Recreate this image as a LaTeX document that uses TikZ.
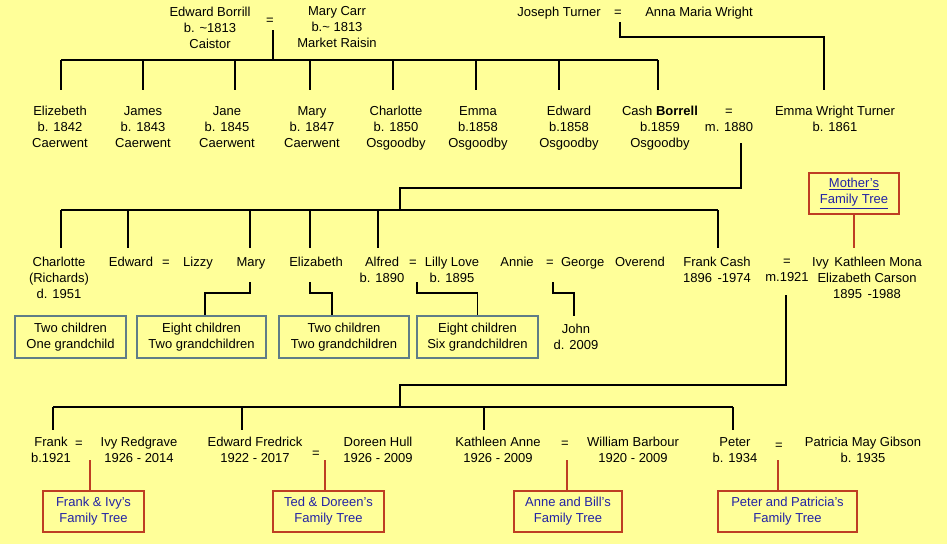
\documentclass[tikz,border=0pt]{standalone}
\usepackage{fontspec}
\setmainfont{Liberation Sans}
\definecolor{paper}{RGB}{255,255,153}
\definecolor{treered}{RGB}{190,62,35}
\definecolor{kidsgrey}{RGB}{95,125,135}
\definecolor{treeblue}{RGB}{35,35,165}
\tikzset{
  person/.style={align=center,inner sep=0pt,anchor=north,yshift=10pt,execute at begin node={\rule{0pt}{10pt}},font=\fontsize{13}{16}\selectfont},
  kidsbox/.style={draw=kidsgrey,line width=1.2pt,align=center,inner sep=0pt,font=\fontsize{13}{16}\selectfont},
  treebox/.style={draw=treered,line width=1.2pt,align=center,inner sep=0pt,text=treeblue,font=\fontsize{13}{16}\selectfont},
  link/.style={line width=1.1pt},
  redlink/.style={line width=1.1pt,treered}
}
\begin{document}
\begin{tikzpicture}[x=1pt,y=-1pt]
  \useasboundingbox (0,0) rectangle (947,544);
  \fill[paper] (0,0) rectangle (947,544);
  \node[person] (edB) at (210,16.5) {Edward  Borrill\\b. \textasciitilde1813\\Caistor};
  \node[person] (eqA) at (270,24.5) {=};
  \node[person] (maryC) at (337,16.5) {Mary Carr\\b.\textasciitilde{} 1813\\Market Raisin};
  \node[person] (josT) at (559,16) {Joseph Turner};
  \node[person] (eqB) at (618,16) {=};
  \node[person] (annaW) at (699,16) {Anna Maria Wright};
  \node[person] (c1) at (60,116) {Elizebeth\\b. 1842\\Caerwent};
  \node[person] (c2) at (143,116) {James\\b. 1843\\Caerwent};
  \node[person] (c3) at (227,116) {Jane\\b. 1845\\Caerwent};
  \node[person] (c4) at (312,116) {Mary\\b. 1847\\Caerwent};
  \node[person] (c5) at (396,116) {Charlotte\\b. 1850\\Osgoodby};
  \node[person] (c6) at (478,116) {Emma\\b.1858\\Osgoodby};
  \node[person] (c7) at (569,116) {Edward\\b.1858\\Osgoodby};
  \node[person] (c8) at (660,116) {Cash \textbf{Borrell}\\b.1859\\Osgoodby};
  \node[person] (wedA) at (729,118.5) {=\\m. 1880};
  \node[person] (emmaT) at (835,116) {Emma Wright Turner\\b. 1861};
  \coordinate (mA) at (273,30);
  \coordinate (barA) at (273,60);
  \draw[link] (mA) -- (barA);
  \draw[link] ([xshift=1pt]c1.north |- barA) -- ([xshift=-2pt]c8.north |- barA);
  \foreach \n/\dx in {c1/1,c2/0,c3/8,c4/-2,c5/-3,c6/-2,c7/-10,c8/-2}
    \draw[link] ([xshift=\dx pt]\n.north |- barA) -- ([xshift=\dx pt,yshift=16pt]\n.north);
  \coordinate (jtA) at (620,22);
  \coordinate (jtB) at (824,37);
  \draw[link] (jtA) |- (jtB) -- ([xshift=-11pt,yshift=16pt]emmaT.north);
  \node[person] (g1) at (59,266.5) {Charlotte\\(Richards)\\d. 1951};
  \node[person] (g2) at (131,266.5) {Edward};
  \node[person] (eqC) at (166,266.5) {=};
  \node[person] (g3) at (198,266.5) {Lizzy};
  \node[person] (g4) at (251,266.5) {Mary};
  \node[person] (g5) at (316,266.5) {Elizabeth};
  \node[person] (g6) at (382,266.5) {Alfred\\b. 1890};
  \node[person] (eqD) at (413,266.5) {=};
  \node[person] (g7) at (452,266.5) {Lilly Love\\b. 1895};
  \node[person] (g8) at (517,266.5) {Annie};
  \node[person] (eqE) at (550,266.5) {=};
  \node[person] (g9) at (613,266.5) {George\hspace{7pt} Overend};
  \node[person] (g10) at (717,266.5) {Frank Cash\\1896\hspace{2pt} -1974};
  \node[person] (wedB) at (787,269) {=\\m.1921};
  \node[person] (g11) at (867,266.5) {Ivy\hspace{2pt} Kathleen Mona\\Elizabeth Carson\\1895\hspace{2pt} -1988};
  \coordinate (mB) at (741,143);
  \coordinate (midB) at (400,188);
  \coordinate (barB) at (400,210);
  \draw[link] (mB) |- (midB) -- (barB);
  \draw[link] ([xshift=2pt]g1.north |- barB) -- ([xshift=1pt]g10.north |- barB);
  \foreach \n/\dx in {g1/2,g2/-3,g4/-1,g5/-6,g6/-4,g10/1}
    \draw[link] ([xshift=\dx pt]\n.north |- barB) -- ([xshift=\dx pt,yshift=8.5pt]\n.north);
  \node[kidsbox,minimum width=111pt,minimum height=42pt] (k1) at (70.5,337) {Two  children\\One grandchild};
  \node[kidsbox,minimum width=129pt,minimum height=42pt] (k2) at (201.5,337) {Eight children\\Two  grandchildren};
  \node[kidsbox,minimum width=130pt,minimum height=42pt] (k3) at (344,337) {Two  children\\Two  grandchildren};
  \node[kidsbox,minimum width=121pt,minimum height=42pt] (k4) at (477.5,337) {Eight children\\Six grandchildren};
  \node[person] (john) at (576,334) {John\\d. 2009};
  \coordinate (mMary) at (250,282);
  \coordinate (mEliz) at (310,282);
  \coordinate (mAlf) at (417,282);
  \coordinate (mAnn) at (553,282);
  \draw[link] (mMary) -- ++(0,11) -| ([xshift=3.5pt]k2.north);
  \draw[link] (mEliz) -- ++(0,11) -| ([xshift=-12pt]k3.north);
  \draw[link] (mAlf) -- ++(0,11) -| (k4.north);
  \draw[link] (mAnn) -- ++(0,11) -| ([xshift=-2pt,yshift=8pt]john.north);
  \node[treebox,minimum width=90pt,minimum height=41pt] (mother) at (854,193.5) {\underline{Mother’s}\\\underline{Family Tree}};
  \draw[redlink] (mother.south) -- ([xshift=-13pt,yshift=8.5pt]g11.north);
  \node[person] (h1) at (51,447) {Frank\\b.1921};
  \node[person] (eqF) at (79,447) {=};
  \node[person] (h2) at (139,447) {Ivy  Redgrave\\1926 - 2014};
  \node[person] (h3) at (255,447) {Edward  Fredrick\\1922 - 2017};
  \node[person] (eqG) at (316,457.5) {=};
  \node[person] (h4) at (378,447) {Doreen  Hull\\1926 - 2009};
  \node[person] (h5) at (498,447) {Kathleen  Anne\\1926 - 2009};
  \node[person] (eqH) at (565,447) {=};
  \node[person] (h6) at (633,447) {William Barbour\\1920 - 2009};
  \node[person] (h7) at (735,447) {Peter\\b. 1934};
  \node[person] (eqI) at (779,449.5) {=};
  \node[person] (h8) at (863,447) {Patricia May Gibson\\b. 1935};
  \coordinate (mC) at (786,295);
  \coordinate (midC) at (400,385);
  \coordinate (barC) at (400,407);
  \draw[link] (mC) |- (midC) -- (barC);
  \draw[link] ([xshift=2pt]h1.north |- barC) -- ([xshift=-2pt]h7.north |- barC);
  \foreach \n/\dx in {h1/2,h3/-13,h5/-14,h7/-2}
    \draw[link] ([xshift=\dx pt]\n.north |- barC) -- ([xshift=\dx pt,yshift=7pt]\n.north);
  \node[treebox,minimum width=101pt,minimum height=41pt] (f1) at (93.5,511.5) {Frank \& Ivy’s\\Family Tree};
  \node[treebox,minimum width=111pt,minimum height=41pt] (f2) at (328.5,511.5) {Ted \& Doreen’s\\Family Tree};
  \node[treebox,minimum width=108pt,minimum height=41pt] (f3) at (568,511.5) {Anne and Bill’s\\Family Tree};
  \node[treebox,minimum width=139pt,minimum height=41pt] (f4) at (787.5,511.5) {Peter and Patricia’s\\Family Tree};
  \coordinate (mFI) at (90,460);
  \coordinate (mTD) at (325,460);
  \coordinate (mAB) at (567,460);
  \coordinate (mPP) at (778,460);
  \foreach \m/\f in {mFI/f1,mTD/f2,mAB/f3,mPP/f4}
    \draw[redlink] (\m) -- (\m |- \f.north);
\end{tikzpicture}
\end{document}
